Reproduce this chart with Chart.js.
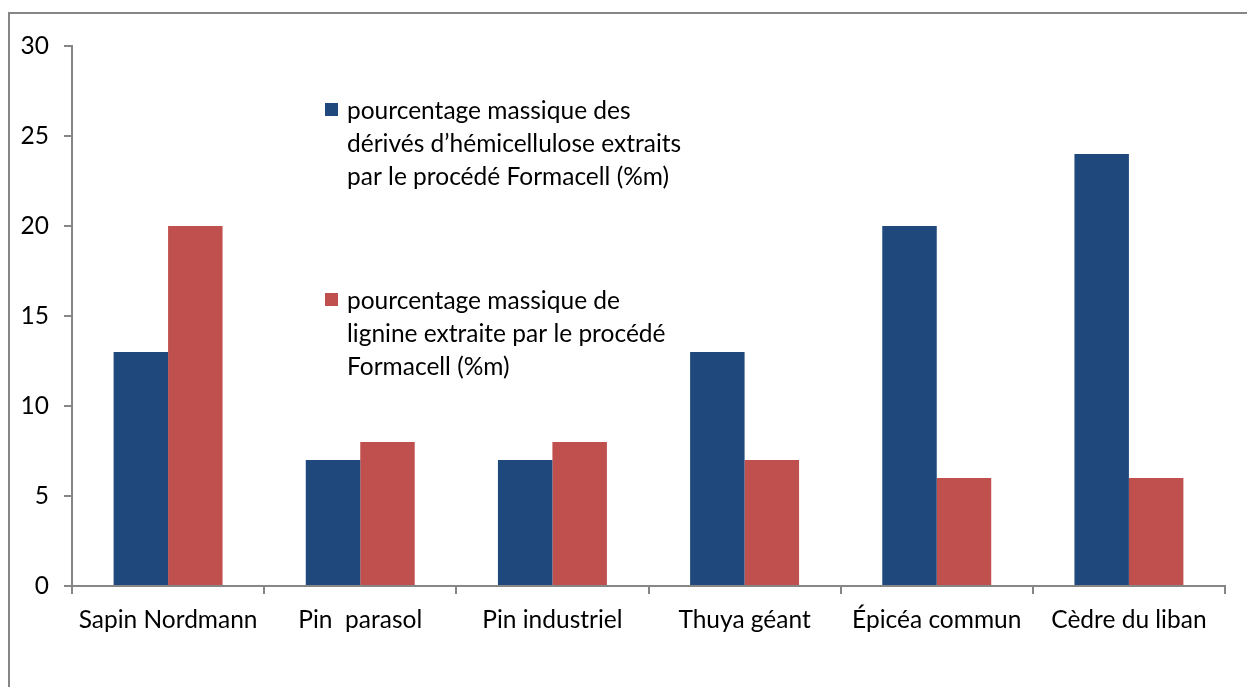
<!DOCTYPE html>
<html>
<head>
<meta charset="utf-8">
<script src="https://cdn.jsdelivr.net/npm/chart.js@4.4.1/dist/chart.umd.min.js"></script>
<style>
  html, body { margin: 0; padding: 0; background: #fff; }
  #wrap { width: 1247px; height: 687px; position: relative; }
</style>
</head>
<body>
<div id="wrap"><canvas id="c" width="1247" height="687"></canvas></div>
<script>
const categories = ['Sapin Nordmann', 'Pin  parasol', 'Pin industriel', 'Thuya géant', 'Épicéa commun', 'Cèdre du liban'];
const hemicellulose = [13, 7, 7, 13, 20, 24];
const lignine = [20, 8, 8, 7, 6, 6];
const seriesLabels = [
  ['pourcentage massique des', 'dérivés d’hémicellulose extraits', 'par le procédé Formacell (%m)'],
  ['pourcentage massique de', 'lignine extraite par le procédé', 'Formacell (%m)']
];
const yTicks = [0, 5, 10, 15, 20, 25, 30];

const BLUE = '#1F497D';
const RED = '#C0504D';
const AXIS = '#868686';
const FONT = 'Lato';
const FONT_SIZE = 24.5;

// Outer frame and in-plot legend
const frameAndLegend = {
  id: 'frameAndLegend',
  afterDraw(chart) {
    const ctx = chart.ctx;
    ctx.save();
    ctx.strokeStyle = AXIS;
    ctx.lineWidth = 2;
    ctx.strokeRect(9, 13, 1260, 700);

    const blocks = [
      { color: BLUE, x: 325, y: 103, lines: seriesLabels[0] },
      { color: RED, x: 325, y: 293, lines: seriesLabels[1] }
    ];
    ctx.font = FONT_SIZE + 'px ' + FONT;
    ctx.textBaseline = 'middle';
    for (const b of blocks) {
      ctx.fillStyle = b.color;
      ctx.fillRect(b.x, b.y, 13, 13);
      ctx.fillStyle = '#000';
      b.lines.forEach((t, i) => ctx.fillText(t, b.x + 22, b.y + 8 + i * 33));
    }
    ctx.restore();
  }
};

new Chart(document.getElementById('c'), {
  type: 'bar',
  data: {
    labels: categories,
    datasets: [
      { label: seriesLabels[0].join(' '), data: hemicellulose, backgroundColor: BLUE },
      { label: seriesLabels[1].join(' '), data: lignine, backgroundColor: RED }
    ]
  },
  options: {
    responsive: false,
    animation: false,
    layout: { padding: { top: 46, right: 22, bottom: 0, left: 0 } },
    categoryPercentage: 0.567,
    barPercentage: 1.0,
    plugins: {
      legend: { display: false },
      tooltip: { enabled: false }
    },
    scales: {
      x: {
        afterFit(s) { s.height = 101; },
        grid: { display: true, drawOnChartArea: false, offset: true, tickLength: 8, color: AXIS, lineWidth: 2 },
        border: { color: AXIS, width: 2 },
        ticks: { color: '#000', font: { family: FONT, size: FONT_SIZE }, padding: 11, maxRotation: 0 }
      },
      y: {
        min: 0, max: 30,
        afterFit(s) { s.width = 72; },
        afterBuildTicks(s) { s.ticks = yTicks.map(v => ({ value: v })); },
        grid: { display: true, drawOnChartArea: false, tickLength: 8, color: AXIS, lineWidth: 2 },
        border: { color: AXIS, width: 2 },
        ticks: { color: '#000', font: { family: FONT, size: FONT_SIZE }, padding: 15 }
      }
    }
  },
  plugins: [frameAndLegend]
});
</script>
</body>
</html>
